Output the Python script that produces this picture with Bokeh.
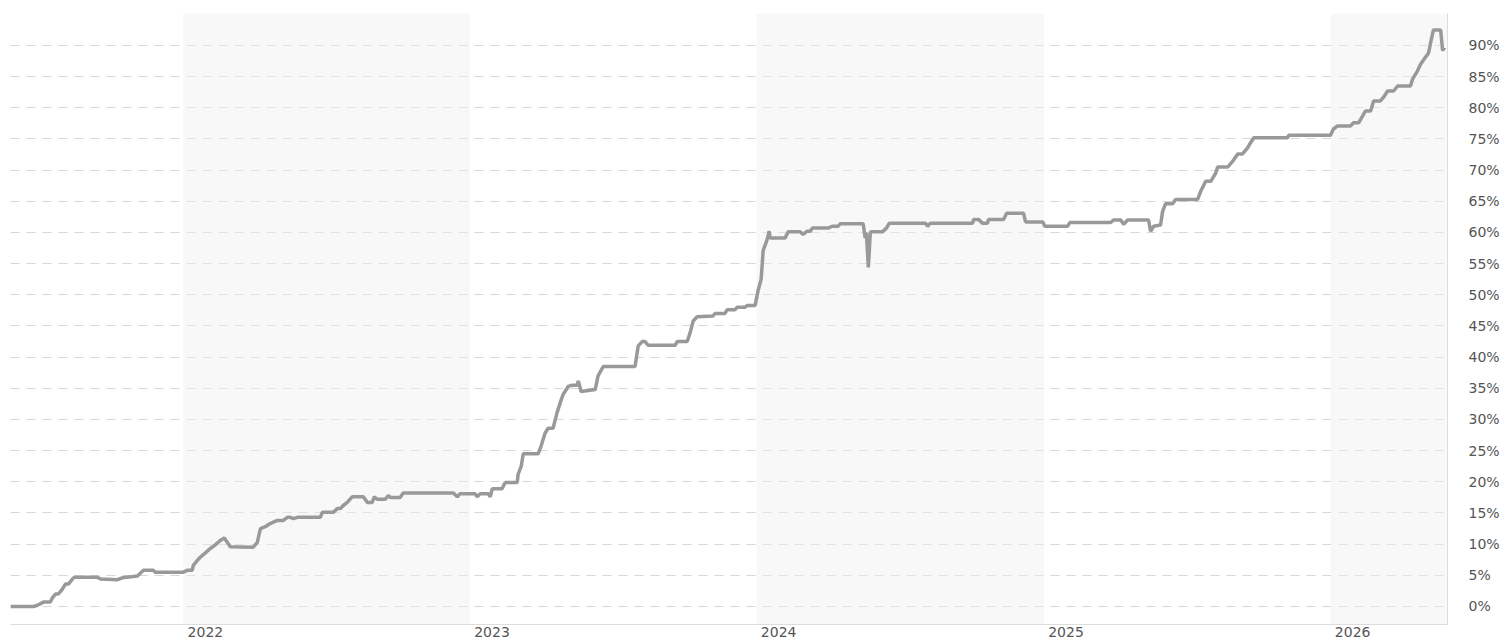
from datetime import datetime
from bokeh.plotting import figure
from bokeh.models import (BoxAnnotation, FixedTicker, DatetimeTickFormatter,
                          Range1d, PrintfTickFormatter)
from bokeh.embed import file_html
from bokeh.resources import INLINE

# ---- data (decimal years, percent) ----
years = [
    2021.397, 2021.477, 2021.491, 2021.512, 2021.536, 2021.543, 2021.554, 2021.564,
    2021.578, 2021.589, 2021.599, 2021.613, 2021.620, 2021.700, 2021.711, 2021.770,
    2021.787, 2021.826, 2021.840, 2021.861, 2021.895, 2021.902, 2022.000, 2022.014,
    2022.031, 2022.035, 2022.049, 2022.059, 2022.077, 2022.094, 2022.112, 2022.129,
    2022.143, 2022.164, 2022.244, 2022.258, 2022.269, 2022.286, 2022.303, 2022.328,
    2022.349, 2022.363, 2022.373, 2022.384, 2022.398, 2022.478, 2022.485, 2022.523,
    2022.537, 2022.548, 2022.558, 2022.572, 2022.589, 2022.628, 2022.642, 2022.659,
    2022.666, 2022.677, 2022.704, 2022.715, 2022.722, 2022.757, 2022.767, 2022.942,
    2022.956, 2022.966, 2023.018, 2023.025, 2023.036, 2023.064, 2023.071, 2023.078,
    2023.112, 2023.123, 2023.165, 2023.168, 2023.179, 2023.186, 2023.238, 2023.248,
    2023.262, 2023.273, 2023.290, 2023.304, 2023.315, 2023.325, 2023.343, 2023.357,
    2023.374, 2023.378, 2023.388, 2023.437, 2023.447, 2023.465, 2023.576, 2023.587,
    2023.601, 2023.611, 2023.622, 2023.716, 2023.723, 2023.758, 2023.768, 2023.779,
    2023.793, 2023.848, 2023.855, 2023.890, 2023.897, 2023.925, 2023.932, 2023.960,
    2023.967, 2023.995, 2024.005, 2024.016, 2024.023, 2024.037, 2024.044, 2024.047,
    2024.099, 2024.110, 2024.152, 2024.162, 2024.176, 2024.187, 2024.194, 2024.249,
    2024.263, 2024.284, 2024.291, 2024.371, 2024.378, 2024.382, 2024.389, 2024.396,
    2024.438, 2024.452, 2024.462, 2024.588, 2024.595, 2024.605, 2024.752, 2024.755,
    2024.772, 2024.786, 2024.804, 2024.807, 2024.860, 2024.870, 2024.929, 2024.936,
    2024.996, 2025.003, 2025.083, 2025.090, 2025.233, 2025.243, 2025.268, 2025.278,
    2025.292, 2025.365, 2025.372, 2025.383, 2025.407, 2025.414, 2025.424, 2025.449,
    2025.459, 2025.536, 2025.547, 2025.564, 2025.582, 2025.599, 2025.606, 2025.641,
    2025.658, 2025.676, 2025.693, 2025.711, 2025.721, 2025.732, 2025.850, 2025.854,
    2026.000, 2026.010, 2026.024, 2026.070, 2026.080, 2026.098, 2026.112, 2026.122,
    2026.140, 2026.150, 2026.174, 2026.185, 2026.199, 2026.220, 2026.234, 2026.279,
    2026.286, 2026.303, 2026.314, 2026.331, 2026.342, 2026.352, 2026.359, 2026.384,
    2026.391, 2026.398,
]
pct = [
    0.0, 0.0, 0.2, 0.7, 0.7, 1.4, 2.0, 2.0,
    2.8, 3.6, 3.6, 4.4, 4.7, 4.7, 4.4, 4.3,
    4.6, 4.8, 4.9, 5.8, 5.8, 5.5, 5.5, 5.8,
    5.8, 6.6, 7.4, 7.9, 8.6, 9.3, 9.9, 10.6,
    11.0, 9.6, 9.5, 10.3, 12.5, 12.8, 13.3, 13.8,
    13.8, 14.3, 14.3, 14.1, 14.3, 14.3, 15.1, 15.1,
    15.7, 15.7, 16.2, 16.7, 17.6, 17.6, 16.7, 16.7,
    17.6, 17.2, 17.2, 17.8, 17.5, 17.5, 18.2, 18.2,
    17.6, 18.1, 18.1, 17.6, 18.1, 18.1, 17.6, 18.9,
    18.9, 19.9, 19.9, 21.2, 22.5, 24.5, 24.5, 25.7,
    27.8, 28.6, 28.6, 31.1, 32.7, 34.0, 35.3, 35.5,
    35.5, 36.2, 34.5, 34.8, 37.0, 38.5, 38.5, 41.8,
    42.5, 42.5, 41.9, 41.9, 42.5, 42.5, 43.9, 45.8,
    46.5, 46.6, 47.0, 47.0, 47.6, 47.6, 48.0, 48.0,
    48.3, 48.3, 50.6, 52.5, 57.1, 58.9, 60.2, 59.1,
    59.1, 60.1, 60.1, 59.7, 60.2, 60.2, 60.7, 60.7,
    61.0, 61.0, 61.4, 61.4, 59.1, 60.0, 54.4, 60.1,
    60.1, 60.7, 61.5, 61.5, 61.0, 61.5, 61.5, 62.1,
    62.1, 61.5, 61.5, 62.1, 62.1, 63.1, 63.1, 61.7,
    61.7, 61.0, 61.0, 61.6, 61.6, 62.0, 62.0, 61.3,
    62.0, 62.0, 60.2, 61.0, 61.2, 63.4, 64.6, 64.6,
    65.3, 65.3, 66.6, 68.2, 68.2, 69.5, 70.5, 70.5,
    71.4, 72.6, 72.6, 73.6, 74.4, 75.2, 75.2, 75.6,
    75.6, 76.6, 77.1, 77.1, 77.6, 77.6, 78.7, 79.5,
    79.5, 81.1, 81.1, 81.7, 82.7, 82.7, 83.5, 83.5,
    84.6, 85.9, 87.0, 88.1, 88.8, 91.1, 92.5, 92.5,
    89.2, 89.7,
]
year_ticks = [2022, 2023, 2024, 2025, 2026]
shaded_years = [2022, 2024, 2026]
pct_ticks = [0, 5, 10, 15, 20, 25, 30, 35, 40, 45, 50, 55, 60, 65, 70, 75, 80, 85, 90]
x_start, x_end = 2021.397, 2026.408
label_shift = 0.077  # year labels sit just right of the year boundary


def to_dt(y):
    yr = int(y)
    s = datetime(yr, 1, 1)
    e = datetime(yr + 1, 1, 1)
    return s + (e - s) * (y - yr)


def to_ms(y):
    return (to_dt(y) - datetime(1970, 1, 1)).total_seconds() * 1000.0


p = figure(width=1508, height=639, x_axis_type="datetime", y_axis_location="right",
           output_backend="svg", toolbar_location=None,
           x_range=Range1d(to_ms(x_start), to_ms(x_end)),
           y_range=Range1d(-2.89, 95.13),
           min_border_left=10, min_border_right=61, min_border_top=13, min_border_bottom=15)
p.outline_line_color = None
p.background_fill_color = "white"

# grid
p.xgrid.visible = False
p.ygrid.ticker = FixedTicker(ticks=pct_ticks)
p.ygrid.grid_line_color = "#d6d6d6"
p.ygrid.grid_line_dash = "9 7"
p.ygrid.grid_line_width = 1

# shaded alternate years
for yr in shaded_years:
    right = min(yr + 1, x_end)
    p.add_layout(BoxAnnotation(left=to_ms(yr), right=to_ms(right),
                               fill_color="#f0f0f0", fill_alpha=0.45,
                               line_color=None, level="underlay"))

# line
p.line([to_dt(y) for y in years], pct, line_color="#999999", line_width=3.5)

# x axis
xa = p.xaxis[0]
xa.ticker = FixedTicker(ticks=[to_ms(y + label_shift) for y in year_ticks])
xa.formatter = DatetimeTickFormatter(years="%Y", months="%Y", days="%Y", hours="%Y",
                                     minutes="%Y", seconds="%Y", milliseconds="%Y")
xa.axis_line_color = "#dddddd"
xa.major_tick_line_color = None
xa.minor_tick_line_color = None
xa.major_tick_out = 0
xa.major_tick_in = 0
xa.major_label_standoff = 2
xa.major_label_text_font = "DejaVu Sans"
xa.major_label_text_font_size = "14px"
xa.major_label_text_color = "#555555"

# y axis (right)
ya = p.yaxis[0]
ya.ticker = FixedTicker(ticks=pct_ticks)
ya.formatter = PrintfTickFormatter(format="%d%%")
ya.axis_line_color = "#dddddd"
ya.major_tick_line_color = None
ya.minor_tick_line_color = None
ya.major_tick_out = 0
ya.major_tick_in = 0
ya.major_label_standoff = 21
ya.major_label_text_font = "DejaVu Sans"
ya.major_label_text_font_size = "14px"
ya.major_label_text_color = "#555555"

open("out.html", "w").write(file_html(p, INLINE))
